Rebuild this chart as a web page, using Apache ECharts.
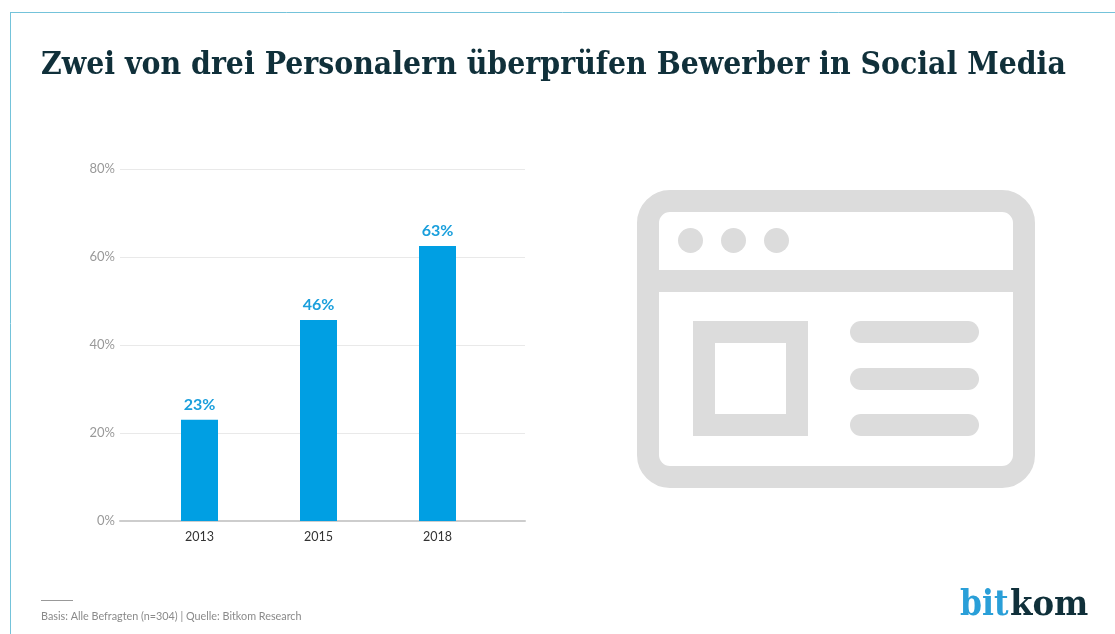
<!DOCTYPE html>
<html>
<head>
<meta charset="utf-8">
<style>
	html, body { margin: 0; padding: 0; background: #fff; }
	#main { width: 1115px; height: 634px; }
</style>
<script src="https://cdn.jsdelivr.net/npm/echarts@6/dist/echarts.min.js"></script>
</head>
<body>
<div id="main"></div>
<script>
	var categories = ['2013', '2015', '2018'];
	var shares = [23, 45.7, 62.5];
	var shareLabels = ['23%', '46%', '63%'];
	var yTicks = [0, 20, 40, 60, 80];

	var chartTitle = 'Zwei von drei Personalern überprüfen Bewerber in Social Media';
	var footnote = 'Basis: Alle Befragten (n=304) | Quelle: Bitkom Research';

	var uiFont = 'Lato, "Noto Sans", sans-serif';
	var slabFont = '"DejaVu Serif Condensed", "DejaVu Serif", serif';
	var grey = '#dcdcdc';

	// browser icon on the right
	function iconParts() {
		var s = { fill: grey };
		return [
			{ type: 'rect', shape: { x: 648, y: 201, width: 376, height: 276, r: 22 }, style: { fill: 'none', stroke: grey, lineWidth: 22 } },
			{ type: 'rect', shape: { x: 648, y: 270, width: 376, height: 22 }, style: s },
			{ type: 'circle', shape: { cx: 690.5, cy: 240.5, r: 12.5 }, style: s },
			{ type: 'circle', shape: { cx: 733.5, cy: 240.5, r: 12.5 }, style: s },
			{ type: 'circle', shape: { cx: 776.5, cy: 240.5, r: 12.5 }, style: s },
			{ type: 'rect', shape: { x: 704, y: 332, width: 93, height: 93 }, style: { fill: 'none', stroke: grey, lineWidth: 22 } },
			{ type: 'rect', shape: { x: 850, y: 321, width: 129, height: 22, r: 11 }, style: s },
			{ type: 'rect', shape: { x: 850, y: 368, width: 129, height: 22, r: 11 }, style: s },
			{ type: 'rect', shape: { x: 850, y: 414, width: 129, height: 22, r: 11 }, style: s }
		];
	}

	var myChart = echarts.init(document.getElementById('main'));
	myChart.setOption({
		backgroundColor: '#fff',
		animation: false,
		title: {
			text: chartTitle,
			left: 36,
			top: 45,
			textStyle: {
				fontFamily: slabFont,
				fontWeight: 'bold',
				fontSize: 31.6,
				color: '#10303a'
			}
		},
		// first grid only carries the long gridlines, second one the bars
		grid: [
			{ left: 120, top: 169, width: 405, height: 352 },
			{ left: 140, top: 169, width: 357, height: 352 }
		],
		xAxis: [
			{
				type: 'value',
				gridIndex: 0,
				min: 0,
				max: 1,
				axisLine: { show: true, onZero: false, lineStyle: { color: '#cdcdcd', width: 2 } },
				axisTick: { show: false },
				axisLabel: { show: false },
				splitLine: { show: false }
			},
			{
				type: 'category',
				gridIndex: 1,
				data: categories,
				axisLine: { show: false },
				axisTick: { show: false },
				axisLabel: { color: '#333', fontFamily: uiFont, fontSize: 12.5, margin: 9 }
			}
		],
		yAxis: [
			{
				type: 'value',
				gridIndex: 0,
				min: yTicks[0],
				max: yTicks[yTicks.length - 1],
				interval: 20,
				axisLine: { show: false },
				axisTick: { show: false },
				axisLabel: { color: '#999', fontFamily: uiFont, fontSize: 13, margin: 5, formatter: '{value}%' },
				splitLine: { lineStyle: { color: '#e9e9e9', width: 1 } }
			},
			{
				type: 'value',
				gridIndex: 1,
				min: yTicks[0],
				max: yTicks[yTicks.length - 1],
				interval: 20,
				axisLine: { show: false },
				axisTick: { show: false },
				axisLabel: { show: false },
				splitLine: { show: false }
			}
		],
		series: [{
			type: 'bar',
			xAxisIndex: 1,
			yAxisIndex: 1,
			data: shares,
			barWidth: 37,
			itemStyle: { color: '#009fe3' },
			label: {
				show: true,
				position: 'top',
				distance: 7,
				color: '#1a9fdc',
				fontFamily: uiFont,
				fontWeight: 'bold',
				fontSize: 16,
				formatter: function (p) {
					return shareLabels[p.dataIndex];
				}
			}
		}],
		graphic: [
			// thin frame top and left
			{ type: 'line', shape: { x1: 10.5, y1: 13, x2: 10.5, y2: 634 }, style: { stroke: '#74c3da', lineWidth: 1 } },
			{ type: 'line', shape: { x1: 10, y1: 12.5, x2: 1115, y2: 12.5 }, style: { stroke: '#74c3da', lineWidth: 1 } },
			// footer
			{ type: 'line', shape: { x1: 41, y1: 600.5, x2: 73, y2: 600.5 }, style: { stroke: '#999', lineWidth: 1 } },
			{ type: 'text', x: 41, y: 611, style: { text: footnote, fill: '#8a8a8a', font: '10.8px ' + uiFont } },
			// logo
			{ type: 'text', x: 960, y: 588, style: { text: 'bit', fill: '#2a9fd8', font: 'bold 35px ' + slabFont } },
			{ type: 'text', x: 1010, y: 588, style: { text: 'kom', fill: '#10303a', font: 'bold 36px ' + slabFont } }
		].concat(iconParts())
	});
</script>
</body>
</html>
